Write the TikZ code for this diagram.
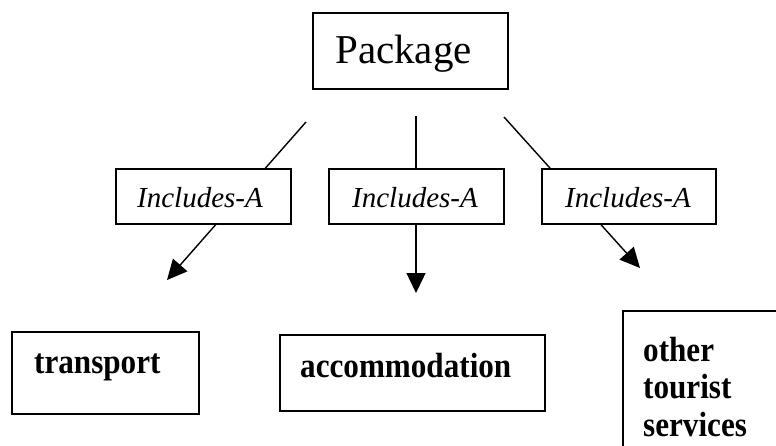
\documentclass[tikz,border=0pt]{standalone}
\usepackage{fontspec}
\setmainfont{Liberation Serif}
\newfontfamily\condserif{Liberation Serif}[FakeStretch=0.89]
\usetikzlibrary{arrows.meta}

\tikzset{
  frame/.style={draw=black, line width=1.4pt, fill=white, inner sep=0pt},
  txt/.style={inner sep=0pt, anchor=base west},
  arrowlink/.style={line width=1.4pt, -{Triangle[length=20pt,width=19pt]}},
  titlefont/.style={font=\fontsize{41}{45}\selectfont},
  relfont/.style={font=\fontsize{29}{32}\selectfont\itshape},
  itemfont/.style={font=\condserif\bfseries\fontsize{35}{37.5}\selectfont, align=left},
}

\begin{document}
\begin{tikzpicture}[x=1pt, y=-1pt]
  \useasboundingbox (0,0) rectangle (776,445);
  \clip (0,0) rectangle (776,445);

  % free ends of the three links
  \coordinate (s1) at (306,122);
  \coordinate (t1) at (167,280);
  \coordinate (s2) at (416,116);
  \coordinate (t2) at (416,293);
  \coordinate (s3) at (504,117);
  \coordinate (t3) at (640,268);

  \draw[arrowlink] (s1) -- (t1);
  \draw[arrowlink] (s2) -- (t2);
  \draw[arrowlink] (s3) -- (t3);

  % boxes
  \node[frame, minimum width=195pt, minimum height=76pt] (pkg) at (410.5,51) {};
  \node[frame, minimum width=175pt, minimum height=55pt] (rel1) at (203.5,196.5) {};
  \node[frame, minimum width=175pt, minimum height=55pt] (rel2) at (416.5,196.5) {};
  \node[frame, minimum width=174pt, minimum height=55pt] (rel3) at (629,196.5) {};
  \node[frame, minimum width=187pt, minimum height=82pt] (trans) at (105.5,373) {};
  \node[frame, minimum width=265pt, minimum height=76pt] (accom) at (412.5,373) {};
  \node[frame, minimum width=177pt, minimum height=170pt] (other) at (711.5,396) {};

  % texts
  \node[txt, titlefont] (pkgtext) at (335,63) {Package};
  \node[txt, relfont] (rel1text) at (137,207) {Includes-A};
  \node[txt, relfont] (rel2text) at (352,207) {Includes-A};
  \node[txt, relfont] (rel3text) at (565,207) {Includes-A};
  \node[txt, itemfont] (transtext) at (34,373) {transport};
  \node[txt, itemfont] (accomtext) at (300,377) {accommodation};
  \node[inner sep=0pt, anchor=north west, itemfont, text depth=0pt] (othertext) at (643,337) {other\\tourist\\services};
\end{tikzpicture}
\end{document}
